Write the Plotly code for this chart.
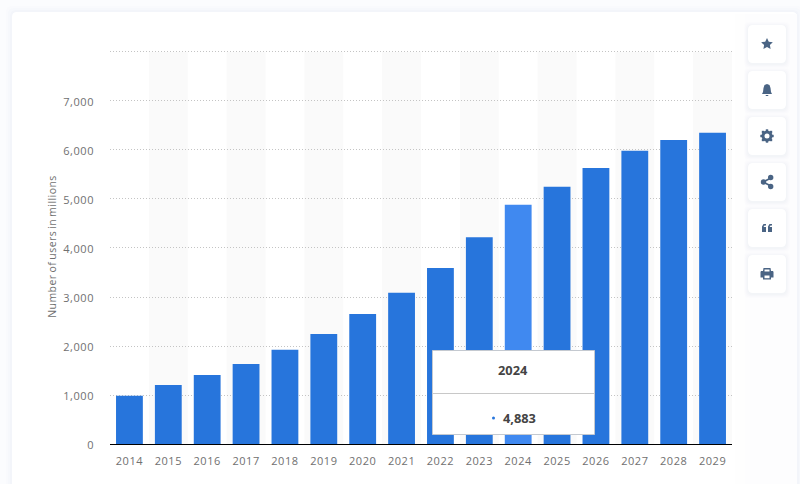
import plotly.graph_objects as go

years = [2014, 2015, 2016, 2017, 2018, 2019, 2020, 2021, 2022, 2023, 2024, 2025, 2026, 2027, 2028, 2029]
users = [985, 1205, 1410, 1635, 1925, 2245, 2655, 3085, 3590, 4220, 4883, 5250, 5635, 5985, 6205, 6350]
y_ticks = [0, 1000, 2000, 3000, 4000, 5000, 6000, 7000, 8000]
y_tick_labels = ["0", "1,000", "2,000", "3,000", "4,000", "5,000", "6,000", "7,000", " "]
highlight_year = 2024
highlight_label = "4,883"
y_title = "Number of users in millions"
y_max = 8061

W, H = 800, 484
L, R, T, B = 110, 68, 49, 40
PW, PH = W - L - R, H - T - B
FONT = "Open Sans, sans-serif"
ICON = "#4a6484"

def px(x):
    return (x - L) / PW

def py(y):
    return (H - B - y) / PH

def rrect(x0, y0, x1, y1, r):
    X0, X1, Y0, Y1 = px(x0), px(x1), py(y0), py(y1)
    rx, ry = r / PW, r / PH
    return (f"M{X0+rx},{Y0} L{X1-rx},{Y0} Q{X1},{Y0} {X1},{Y0-ry} L{X1},{Y1+ry} Q{X1},{Y1} {X1-rx},{Y1} "
            f"L{X0+rx},{Y1} Q{X0},{Y1} {X0},{Y1+ry} L{X0},{Y0-ry} Q{X0},{Y0} {X0+rx},{Y0} Z")

def paper_path(pts):
    return "M" + " L".join(f"{px(a)},{py(b)}" for a, b in pts) + " Z"

shapes = []

def add(path, color, line=None, width=0, layer="below"):
    shapes.append(dict(type="path", xref="paper", yref="paper", path=path, fillcolor=color,
                       line=dict(color=line or "rgba(0,0,0,0)", width=width), layer=layer))

# page and card
shapes.append(dict(type="rect", xref="paper", yref="paper", x0=px(0), x1=px(W), y0=py(H), y1=py(0),
                   fillcolor="#fbfcfe", line_width=0, layer="below"))
for i, op in ((6, 0.012), (4, 0.015), (2, 0.02)):
    add(rrect(12 - i, 12 - i, 797 + i, 500, 6), f"rgba(90,110,170,{op})")
add(rrect(12, 12, 797, 500, 5), "#ffffff")
# soft panel behind the icons
for x0, col in ((735, "#fefefe"), (745, "#fdfdfe")):
    shapes.append(dict(type="rect", xref="paper", yref="paper", x0=px(x0), x1=px(797), y0=py(484), y1=py(14),
                       fillcolor=col, line_width=0, layer="below"))

# alternating bands
for yr in years[1::2]:
    shapes.append(dict(type="rect", xref="x", yref="y", x0=yr - 0.5, x1=yr + 0.5, y0=0, y1=y_ticks[-1],
                       fillcolor="#fafafa", line_width=0, layer="below"))

# icon buttons
button_tops = [25, 71, 117, 163, 209, 255]
for top in button_tops:
    for i, op in ((4, 0.006), (3, 0.008), (2, 0.010), (1, 0.012)):
        add(rrect(748 - i, top - i + 1, 786 + i, top + 38 + i + 1, 5), f"rgba(40,60,100,{op})")
    add(rrect(748, top, 786, top + 38, 5), "#ffffff")

# star
add(paper_path([(767, 38), (768.8, 41.7), (772.8, 42.2), (769.9, 45), (770.6, 49), (767, 47.1),
                (763.4, 49), (764.1, 45), (761.2, 42.2), (765.2, 41.7)]), ICON, layer="above")
# bell
add(paper_path([(767, 84), (769.5, 85), (770.5, 88), (771, 92), (772, 94), (762, 94), (763, 92),
                (763.5, 88), (764.5, 85)]), ICON, layer="above")
add(paper_path([(765.5, 95), (768.5, 95), (768, 96), (766, 96)]), ICON, layer="above")
# gear
shapes.append(dict(type="circle", xref="paper", yref="paper", x0=px(763), x1=px(771), y0=py(140), y1=py(132),
                   fillcolor="#ffffff", line=dict(color=ICON, width=3), layer="above"))
for dx, dy in ((0, -5.5), (0, 5.5), (-5.5, 0), (5.5, 0), (-4, -4), (4, -4), (-4, 4), (4, 4)):
    shapes.append(dict(type="rect", xref="paper", yref="paper", x0=px(767 + dx - 1.2), x1=px(767 + dx + 1.2),
                       y0=py(136 + dy + 1.2), y1=py(136 + dy - 1.2), fillcolor=ICON, line_width=0, layer="above"))
# share
for a, b, c, d in ((763, 182, 771, 178), (763, 182, 771, 186)):
    shapes.append(dict(type="line", xref="paper", yref="paper", x0=px(a), y0=py(b), x1=px(c), y1=py(d),
                       line=dict(color=ICON, width=1.6), layer="above"))
for cx, cy, r in ((763.5, 182, 2.7), (770.7, 177.5, 2.7), (770.7, 186.5, 2.7)):
    shapes.append(dict(type="circle", xref="paper", yref="paper", x0=px(cx - r), x1=px(cx + r), y0=py(cy + r), y1=py(cy - r),
                       fillcolor=ICON, line_width=0, layer="above"))
# quote
for x0 in (762, 768):
    add(paper_path([(x0 + 1.5, 224), (x0 + 4, 224), (x0 + 4, 225.5), (x0 + 2.5, 225.5), (x0 + 1.5, 227), (x0 + 4, 227),
                    (x0 + 4, 232), (x0, 232), (x0, 226.5)]), ICON, layer="above")
# printer
add(paper_path([(763.5, 268), (770.5, 268), (771, 271), (773, 271), (773.5, 272), (773.5, 277.5), (771, 277.5),
                (771, 279.5), (763, 279.5), (763, 277.5), (760.5, 277.5), (760.5, 272), (761, 271), (763, 271)]), ICON, layer="above")
add(paper_path([(764.5, 269.5), (769.5, 269.5), (769.5, 271.5), (764.5, 271.5)]), "#ffffff", layer="above")
add(paper_path([(764.5, 275.5), (769.5, 275.5), (769.5, 278.2), (764.5, 278.2)]), "#ffffff", layer="above")

# tooltip
add(paper_path([(432.5, 350.5), (594.5, 350.5), (594.5, 434.5), (432.5, 434.5)]), "#ffffff", line="#c4c9d0", width=1, layer="above")
shapes.append(dict(type="line", xref="paper", yref="paper", x0=px(433), x1=px(594), y0=py(393.5), y1=py(393.5),
                   line=dict(color="#c8c8c8", width=1), layer="above"))
shapes.append(dict(type="circle", xref="paper", yref="paper", x0=px(492), x1=px(495), y0=py(419.5), y1=py(416.5),
                   fillcolor="#2775dc", line_width=0, layer="above"))

colors = ["#4089f0" if yr == highlight_year else "#2775dc" for yr in years]
fig = go.Figure(go.Bar(x=years, y=users, width=0.69, marker=dict(color=colors, line_width=0), hoverinfo="skip"))

annotations = [
    dict(xref="paper", yref="paper", x=px(512.5), y=py(370), text=f"<b>{highlight_year}</b>", showarrow=False,
         xanchor="center", yanchor="middle", font=dict(family=FONT, size=12.8, color="#444444")),
    dict(xref="paper", yref="paper", x=px(519.5), y=py(418), text=f"<b>{highlight_label}</b>", showarrow=False,
         xanchor="center", yanchor="middle", font=dict(family=FONT, size=12.8, color="#444444")),
]

fig.update_layout(
    width=W, height=H, margin=dict(l=L, r=R, t=T, b=B, autoexpand=False), showlegend=False,
    paper_bgcolor="#ffffff", plot_bgcolor="rgba(0,0,0,0)", shapes=shapes, annotations=annotations,
    font=dict(family=FONT, size=11, color="#777777"),
    xaxis=dict(range=[years[0] - 0.5, years[-1] + 0.5], tickmode="array", tickvals=years, ticktext=[str(y) for y in years],
               showgrid=False, ticks="", ticklen=0, showline=True, linecolor="#000000", linewidth=1, zeroline=False,
               ticklabelstandoff=7, tickfont=dict(family=FONT, size=11, color="#707070")),
    yaxis=dict(range=[0, y_max], tickmode="array", tickvals=y_ticks, ticktext=y_tick_labels, showgrid=True,
               gridcolor="#c4c4c4", griddash="1px,2px", gridwidth=1, zeroline=False, showline=False, ticks="",
               ticklabelstandoff=15, tickfont=dict(family=FONT, size=11, color="#707070"),
               title=dict(text=y_title, font=dict(family=FONT, size=10.5, color="#707070"), standoff=7)),
)

post = """
document.body.style.margin='0';document.body.style.overflow='hidden';
document.querySelectorAll('.xtick text, .ytick text').forEach(function(t){t.style.letterSpacing='0.55px';});
document.querySelectorAll('.ytick text').forEach(function(t){t.setAttribute('transform',(t.getAttribute('transform')||'')+' translate(0,0.7)');});
document.querySelectorAll('.ytitle').forEach(function(t){t.style.letterSpacing='0.45px';t.style.wordSpacing='-1.2px';});
"""
fig.write_html("out.html", config=dict(displayModeBar=False), post_script=post)
